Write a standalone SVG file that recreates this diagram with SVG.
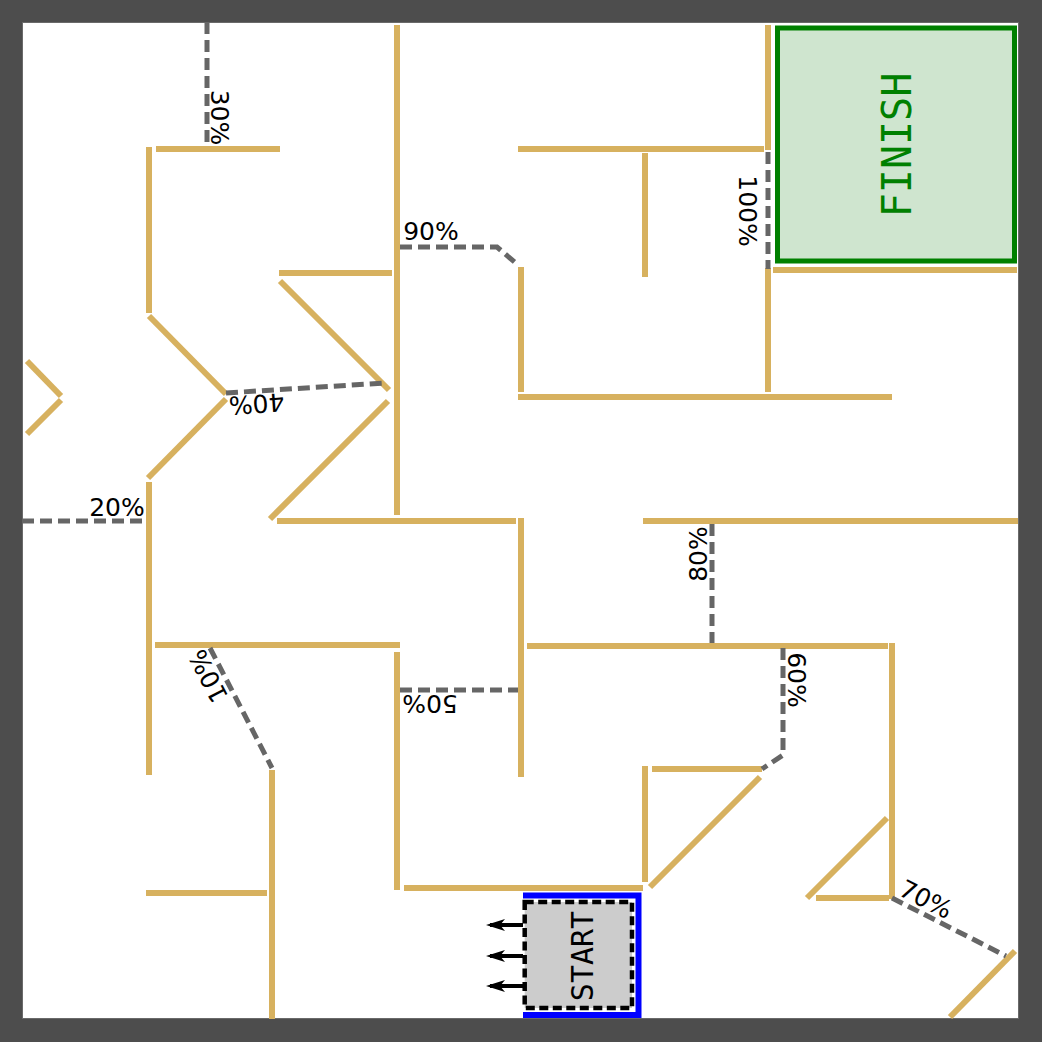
<svg xmlns="http://www.w3.org/2000/svg" width="1042" height="1042" viewBox="0 0 1042 1042">
<defs>
<style>
.wall{fill:none;stroke:#d7b15f;stroke-width:6;stroke-linecap:butt}
.link{fill:none;stroke:#666666;stroke-width:5;stroke-dasharray:12 6}
.lbl{font-family:"DejaVu Sans","Liberation Sans",sans-serif;font-size:25px;fill:#000;text-anchor:middle}
.arr{stroke:#000;stroke-width:4;fill:none}
</style>
<marker id="ah" markerUnits="userSpaceOnUse" markerWidth="20" markerHeight="14" refX="15" refY="7" orient="auto">
<path d="M0,1 L19,7 L0,13 L5,7 Z" fill="#000"/>
</marker>
</defs>
<rect x="0" y="0" width="1042" height="1042" fill="#4d4d4d"/>
<rect x="22.5" y="22.5" width="996" height="996" fill="#ffffff" stroke="#6a6a6a" stroke-width="1"/>

<g id="walls">
<path class="wall" d="M149,147 V313"/>
<path class="wall" d="M156,149 H280"/>
<path class="wall" d="M149,316 L226,394"/>
<path class="wall" d="M226,399 L148,478"/>
<path class="wall" d="M149,482 V775"/>
<path class="wall" d="M155,645 H400"/>
<path class="wall" d="M279,273 H392"/>
<path class="wall" d="M280,281 L389,390"/>
<path class="wall" d="M388,401 L270,519"/>
<path class="wall" d="M397,25 V515"/>
<path class="wall" d="M277,521 H516"/>
<path class="wall" d="M521,518 V777"/>
<path class="wall" d="M397,652 V890"/>
<path class="wall" d="M404,888 H643"/>
<path class="wall" d="M272,770 V1019"/>
<path class="wall" d="M146,893 H267"/>
<path class="wall" d="M27,361 L61,396"/>
<path class="wall" d="M61,400 L27,434"/>
<path class="wall" d="M518,149 H764"/>
<path class="wall" d="M645,153 V277"/>
<path class="wall" d="M768,25 V150"/>
<path class="wall" d="M768,268 V392"/>
<path class="wall" d="M773,270 H1017"/>
<path class="wall" d="M521,267 V392"/>
<path class="wall" d="M518,397 H892"/>
<path class="wall" d="M643,521 H1018"/>
<path class="wall" d="M527,646 H888"/>
<path class="wall" d="M892,643 V899"/>
<path class="wall" d="M652,769 H762"/>
<path class="wall" d="M645,766 V882"/>
<path class="wall" d="M760,777 L650,887"/>
<path class="wall" d="M887,818 L807,898"/>
<path class="wall" d="M816,898 H889"/>
<path class="wall" d="M1015,951 L950,1017"/>
</g>

<g id="finish">
<rect x="777.5" y="28" width="237" height="233" fill="#cfe5cf" stroke="#008000" stroke-width="5"/>
<text transform="translate(911,145) rotate(-90)" x="0" y="0" text-anchor="middle" font-family="'DejaVu Sans Mono','Liberation Mono',monospace" font-size="40" fill="#008000">FINISH</text>
</g>

<g id="start">
<path d="M523,895.5 H638.5 V1015 H523" fill="#ffffff" stroke="#0000ff" stroke-width="6"/>
<rect x="524.7" y="902" width="107.3" height="106" fill="#cccccc" stroke="#000" stroke-width="4.5" stroke-dasharray="9 4.5"/>
<text transform="translate(593,956) rotate(-90)" x="0" y="0" text-anchor="middle" font-family="'DejaVu Sans Mono','Liberation Mono',monospace" font-size="30" fill="#000">START</text>
</g>

<g id="connectors">
<path class="link" d="M207,22 V147"/>
<path class="link" d="M400,247 H497 L518,265"/>
<path class="link" d="M768,152 V269"/>
<path class="link" d="M226,393 L385,383"/>
<path class="link" d="M22,521 H145"/>
<path class="link" d="M210,648 L272,768"/>
<path class="link" d="M400,690 H518"/>
<path class="link" d="M712,524 V643"/>
<path class="link" d="M783,648 V755 L762,769"/>
<path class="link" d="M892,898 L1006,956"/>
<line class="arr" x1="523" y1="925" x2="490" y2="925" marker-end="url(#ah)"/>
<line class="arr" x1="523" y1="956" x2="490" y2="956" marker-end="url(#ah)"/>
<line class="arr" x1="523" y1="986" x2="490" y2="986" marker-end="url(#ah)"/>
</g>

<g id="labels">
<text class="lbl" transform="translate(211,117.5) rotate(90)">30%</text>
<text class="lbl" x="431" y="240">90%</text>
<text class="lbl" transform="translate(739,211) rotate(90)">100%</text>
<text class="lbl" transform="translate(256,395) rotate(176)">40%</text>
<text class="lbl" x="117" y="516">20%</text>
<text class="lbl" transform="translate(216,672) rotate(-117.3)">10%</text>
<text class="lbl" transform="translate(430,695) rotate(180)">50%</text>
<text class="lbl" transform="translate(707,554) rotate(-90)">80%</text>
<text class="lbl" transform="translate(788,680) rotate(90)">60%</text>
<text class="lbl" transform="translate(922,907) rotate(26.8)">70%</text>
</g>
</svg>
